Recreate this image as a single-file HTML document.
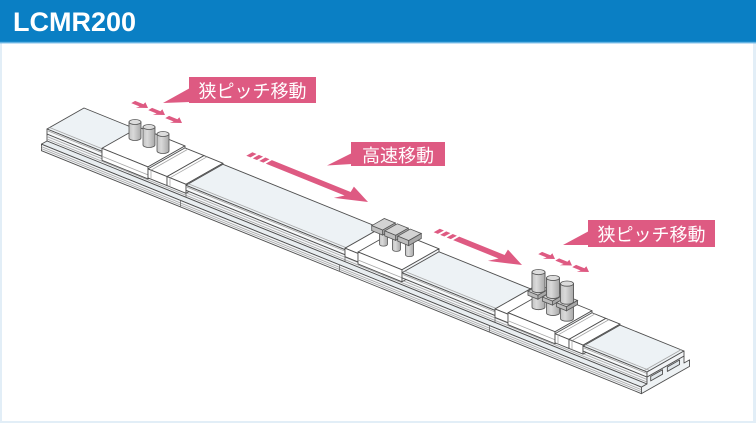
<!DOCTYPE html>
<html>
<head>
<meta charset="utf-8">
<style>
html,body{margin:0;padding:0;background:#fff;}
body{width:756px;height:423px;overflow:hidden;}
svg{display:block;}
.o{stroke:#4f4f4f;stroke-width:0.9;stroke-linejoin:round;vector-effect:non-scaling-stroke;}
.l{stroke:#a6a6a6;stroke-width:0.8;fill:none;vector-effect:non-scaling-stroke;}
.k{stroke:#6a6a6a;stroke-width:0.8;fill:none;vector-effect:non-scaling-stroke;}
.c{stroke:#555;stroke-width:0.8;vector-effect:non-scaling-stroke;}
.lbl{font-family:"Liberation Sans","Noto Sans CJK JP",sans-serif;font-size:18px;fill:#fff;}
</style>
</head>
<body>
<svg width="756" height="423" viewBox="0 0 756 423" xmlns="http://www.w3.org/2000/svg">
<defs>
<linearGradient id="cg" x1="0" y1="0" x2="1" y2="0">
<stop offset="0" stop-color="#c4c4c4"/>
<stop offset="0.35" stop-color="#dadada"/>
<stop offset="1" stop-color="#a9a9a9"/>
</linearGradient>
</defs>

<!-- frame -->
<rect x="0" y="0" width="756" height="423" fill="#e2eef7"/>
<rect x="2" y="43" width="751" height="378" fill="#ffffff"/>
<rect x="0" y="0" width="756" height="42" fill="#0a7fc4"/>
<rect x="0" y="41.8" width="756" height="1.6" fill="#66b4e3"/>
<text x="13" y="31" font-family="Liberation Sans, sans-serif" font-weight="bold" font-size="27" fill="#ffffff">LCMR200</text>

<!-- ===== BASE ===== -->
<g transform="matrix(1 0.405 0 1 47 129)">
  <polygon class="o" fill="#f4f6f8" points="0,5 600,5 600,12 0,12"/>
  <line class="l" x1="0" y1="7.5" x2="600" y2="7.5"/>
  <line class="l" x1="0" y1="10" x2="600" y2="10"/>
  <line class="k" x1="139" y1="5" x2="139" y2="12"/>
  <line class="k" x1="298" y1="5" x2="298" y2="12"/>
  <line class="k" x1="448" y1="5" x2="448" y2="12"/>
</g>
<g transform="matrix(1 0.405 37 -21 47 141)">
  <polygon class="o" fill="#e8edf0" points="0,-0.15 600,-0.15 600,0 0,0"/>
</g>
<g transform="matrix(1 0.405 0 1 41.45 132.15)">
  <polygon class="o" fill="#f4f6f8" points="0,12 600,12 600,18.5 0,18.5"/>
  <line class="l" x1="0" y1="14.5" x2="600" y2="14.5"/>
  <line class="l" x1="0" y1="16.5" x2="600" y2="16.5"/>
  <line class="k" x1="139" y1="12" x2="139" y2="18.5"/>
  <line class="k" x1="298" y1="12" x2="298" y2="18.5"/>
  <line class="k" x1="448" y1="12" x2="448" y2="18.5"/>
</g>
<!-- base end face -->
<g transform="matrix(37 -21 0 1 647 372)">
  <polygon class="o" fill="#eef2f4" points="-0.15,18.5 -0.15,12 0,12 0,5 1,5 1,12 1.15,12 1.15,18.5"/>
  <polygon class="o" fill="#e0e6ea" points="0.1,6.5 0.42,6.5 0.42,11 0.1,11"/>
  <polygon class="o" fill="#e0e6ea" points="0.55,6.5 0.88,6.5 0.88,11 0.55,11"/>
</g>

<!-- ===== PIECES ===== -->
<!-- A: cover 0-55 -->
<g transform="matrix(1 0.405 37 -21 47 129)">
  <polygon class="o" fill="#edf2f5" points="0,0 55,0 55,1 0,1"/>
  <line class="l" x1="0" y1="0.07" x2="55" y2="0.07"/>
</g>
<g transform="matrix(1 0.405 0 1 47 129)">
  <polygon class="o" fill="#f7f9fa" points="0,0 55,0 55,5 0,5"/>
  <line class="l" x1="0" y1="1.5" x2="55" y2="1.5"/>
</g>

<!-- C1: carriage 55-101 -->
<g transform="matrix(1 0.405 37 -21 47 126)">
  <polygon class="o" fill="#ffffff" points="55,0 101,0 101,1 55,1"/>
</g>
<g transform="matrix(1 0.405 0 1 47 129)">
  <polygon class="o" fill="#ffffff" points="55,-3 101,-3 101,9 55,9"/>
  <line class="l" x1="55" y1="5" x2="101" y2="5"/>
</g>
<g transform="matrix(37 -21 0 1 148 169.905)">
  <polygon class="o" fill="#f2f4f6" points="0,-3 1,-3 1,9 0,9"/>
</g>

<!-- Sa: 101-120 -->
<g transform="matrix(1 0.405 37 -21 47 128)">
  <polygon class="o" fill="#ffffff" points="101,0 120,0 120,1 101,1"/>
  <line class="l" x1="104" y1="0" x2="104" y2="1"/>
</g>
<g transform="matrix(1 0.405 0 1 47 129)">
  <polygon class="o" fill="#ffffff" points="101,-1 120,-1 120,8 101,8"/>
  <line class="l" x1="104" y1="-1" x2="104" y2="8"/>
</g>
<g transform="matrix(37 -21 0 1 167 177.6)">
  <polygon class="o" fill="#f2f4f6" points="0,-1 1,-1 1,8 0,8"/>
</g>

<!-- Sb: 120-139 -->
<g transform="matrix(1 0.405 37 -21 47 128)">
  <polygon class="o" fill="#ffffff" points="120,0 139,0 139,1 120,1"/>
  <line class="l" x1="123" y1="0" x2="123" y2="1"/>
</g>
<g transform="matrix(1 0.405 0 1 47 129)">
  <polygon class="o" fill="#ffffff" points="120,-1 139,-1 139,8 120,8"/>
  <line class="l" x1="123" y1="-1" x2="123" y2="8"/>
</g>
<g transform="matrix(37 -21 0 1 186 185.295)">
  <polygon class="o" fill="#f2f4f6" points="0,-1 1,-1 1,8 0,8"/>
</g>

<!-- B: cover 139-298 -->
<g transform="matrix(1 0.405 37 -21 47 129)">
  <polygon class="o" fill="#edf2f5" points="139,0 298,0 298,1 139,1"/>
  <line class="l" x1="139" y1="0.07" x2="298" y2="0.07"/>
</g>
<g transform="matrix(1 0.405 0 1 47 129)">
  <polygon class="o" fill="#f7f9fa" points="139,0 298,0 298,5 139,5"/>
  <line class="l" x1="139" y1="1.5" x2="298" y2="1.5"/>
</g>

<!-- P2: 298-311 -->
<g transform="matrix(1 0.405 37 -21 47 127.5)">
  <polygon class="o" fill="#ffffff" points="298,0 311,0 311,1 298,1"/>
</g>
<g transform="matrix(1 0.405 0 1 47 129)">
  <polygon class="o" fill="#ffffff" points="298,-1.5 311,-1.5 311,7 298,7"/>
</g>

<!-- C2: carriage 311-355 -->
<g transform="matrix(1 0.405 37 -21 47 126)">
  <polygon class="o" fill="#ffffff" points="311,0 355,0 355,1 311,1"/>
</g>
<g transform="matrix(1 0.405 0 1 47 129)">
  <polygon class="o" fill="#ffffff" points="311,-3 355,-3 355,9 311,9"/>
  <line class="l" x1="311" y1="5" x2="355" y2="5"/>
</g>
<g transform="matrix(37 -21 0 1 402 272.775)">
  <polygon class="o" fill="#f2f4f6" points="0,-3 1,-3 1,9 0,9"/>
</g>

<!-- C: cover 355-448 -->
<g transform="matrix(1 0.405 37 -21 47 129)">
  <polygon class="o" fill="#edf2f5" points="355,0 448,0 448,1 355,1"/>
  <line class="l" x1="355" y1="0.07" x2="448" y2="0.07"/>
</g>
<g transform="matrix(1 0.405 0 1 47 129)">
  <polygon class="o" fill="#f7f9fa" points="355,0 448,0 448,5 355,5"/>
  <line class="l" x1="355" y1="1.5" x2="448" y2="1.5"/>
</g>

<!-- P3: 448-461 -->
<g transform="matrix(1 0.405 37 -21 47 127.5)">
  <polygon class="o" fill="#ffffff" points="448,0 461,0 461,1 448,1"/>
</g>
<g transform="matrix(1 0.405 0 1 47 129)">
  <polygon class="o" fill="#ffffff" points="448,-1.5 461,-1.5 461,7 448,7"/>
</g>

<!-- C3: carriage 461-508 -->
<g transform="matrix(1 0.405 37 -21 47 126)">
  <polygon class="o" fill="#ffffff" points="461,0 508,0 508,1 461,1"/>
</g>
<g transform="matrix(1 0.405 0 1 47 129)">
  <polygon class="o" fill="#ffffff" points="461,-3 508,-3 508,9 461,9"/>
  <line class="l" x1="461" y1="5" x2="508" y2="5"/>
</g>
<g transform="matrix(37 -21 0 1 555 334.74)">
  <polygon class="o" fill="#f2f4f6" points="0,-3 1,-3 1,9 0,9"/>
</g>

<!-- Sa2: 508-522 -->
<g transform="matrix(1 0.405 37 -21 47 128)">
  <polygon class="o" fill="#ffffff" points="508,0 522,0 522,1 508,1"/>
  <line class="l" x1="511" y1="0" x2="511" y2="1"/>
</g>
<g transform="matrix(1 0.405 0 1 47 129)">
  <polygon class="o" fill="#ffffff" points="508,-1 522,-1 522,8 508,8"/>
  <line class="l" x1="511" y1="-1" x2="511" y2="8"/>
</g>
<g transform="matrix(37 -21 0 1 569 340.41)">
  <polygon class="o" fill="#f2f4f6" points="0,-1 1,-1 1,8 0,8"/>
</g>

<!-- Sb2: 522-536 -->
<g transform="matrix(1 0.405 37 -21 47 128)">
  <polygon class="o" fill="#ffffff" points="522,0 536,0 536,1 522,1"/>
  <line class="l" x1="525" y1="0" x2="525" y2="1"/>
</g>
<g transform="matrix(1 0.405 0 1 47 129)">
  <polygon class="o" fill="#ffffff" points="522,-1 536,-1 536,8 522,8"/>
  <line class="l" x1="525" y1="-1" x2="525" y2="8"/>
</g>
<g transform="matrix(37 -21 0 1 583 346.08)">
  <polygon class="o" fill="#f2f4f6" points="0,-1 1,-1 1,8 0,8"/>
</g>

<!-- D: end cover 536-600 -->
<g transform="matrix(1 0.405 37 -21 47 129)">
  <polygon class="o" fill="#edf2f5" points="536,0 600,0 600,1 536,1"/>
  <line class="l" x1="536" y1="0.07" x2="600" y2="0.07"/>
  <line class="l" x1="597" y1="0" x2="597" y2="1"/>
</g>
<g transform="matrix(1 0.405 0 1 47 129)">
  <polygon class="o" fill="#f7f9fa" points="536,0 600,0 600,5 536,5"/>
  <line class="l" x1="536" y1="1.5" x2="600" y2="1.5"/>
</g>
<g transform="matrix(37 -21 0 1 647 372)">
  <polygon class="o" fill="#f2f4f6" points="0,0 1,0 1,5 0,5"/>
</g>

<!-- ===== C1 cylinders ===== -->
<path class="c" fill="url(#cg)" d="M129,122 L129,138 A6,2.5 0 0 0 141,138 L141,122 Z"/>
<ellipse class="c" fill="#dcdcdc" cx="135" cy="122" rx="6" ry="2.5"/>
<path class="c" fill="url(#cg)" d="M143,127 L143,145 A6,2.5 0 0 0 155,145 L155,127 Z"/>
<ellipse class="c" fill="#dcdcdc" cx="149" cy="127" rx="6" ry="2.5"/>
<path class="c" fill="url(#cg)" d="M157,134 L157,151 A6,2.5 0 0 0 169,151 L169,134 Z"/>
<ellipse class="c" fill="#dcdcdc" cx="163" cy="134" rx="6" ry="2.5"/>

<!-- ===== C2 pins ===== -->
<!-- pin1 s=318 -->
<path class="c" fill="url(#cg)" d="M379.5,229.3 L379.5,244.3 A4,1.8 0 0 0 387.5,244.3 L387.5,229.3 Z"/>
<g transform="matrix(1 0.405 37 -21 47 106)"><polygon class="c" fill="#d3d3d3" points="312.5,0.33 323.5,0.33 323.5,0.67 312.5,0.67"/></g>
<g transform="matrix(1 0.405 0 1 59.21 122.07)"><polygon class="c" fill="#bebebe" points="312.5,-23 323.5,-23 323.5,-18 312.5,-18"/></g>
<g transform="matrix(37 -21 0 1 370.5 260.0175)"><polygon class="c" fill="#a9a9a9" points="0.33,-23 0.67,-23 0.67,-18 0.33,-18"/></g>
<!-- pin2 s=331 -->
<path class="c" fill="url(#cg)" d="M392.5,234.56 L392.5,249.56 A4,1.8 0 0 0 400.5,249.56 L400.5,234.56 Z"/>
<g transform="matrix(1 0.405 37 -21 47 106)"><polygon class="c" fill="#d3d3d3" points="325.5,0.33 336.5,0.33 336.5,0.67 325.5,0.67"/></g>
<g transform="matrix(1 0.405 0 1 59.21 122.07)"><polygon class="c" fill="#bebebe" points="325.5,-23 336.5,-23 336.5,-18 325.5,-18"/></g>
<g transform="matrix(37 -21 0 1 383.5 265.2825)"><polygon class="c" fill="#a9a9a9" points="0.33,-23 0.67,-23 0.67,-18 0.33,-18"/></g>
<!-- pin3 s=344 -->
<path class="c" fill="url(#cg)" d="M405.5,239.82 L405.5,254.82 A4,1.8 0 0 0 413.5,254.82 L413.5,239.82 Z"/>
<g transform="matrix(1 0.405 37 -21 47 106)"><polygon class="c" fill="#d3d3d3" points="338.5,0.33 349.5,0.33 349.5,0.67 338.5,0.67"/></g>
<g transform="matrix(1 0.405 0 1 59.21 122.07)"><polygon class="c" fill="#bebebe" points="338.5,-23 349.5,-23 349.5,-18 338.5,-18"/></g>
<g transform="matrix(37 -21 0 1 396.5 270.5475)"><polygon class="c" fill="#a9a9a9" points="0.33,-23 0.67,-23 0.67,-18 0.33,-18"/></g>

<!-- ===== C3 cylinders with clamps ===== -->
<!-- cyl1 s=473 -->
<path class="c" fill="url(#cg)" d="M532,272.07 L532,307.07 A6.5,2.6 0 0 0 545,307.07 L545,272.07 Z"/>
<g transform="matrix(1 0.405 37 -21 47 109)"><polygon class="c" fill="#d0d0d0" points="468,0.35 478,0.35 478,0.65 468,0.65"/></g>
<g transform="matrix(1 0.405 0 1 59.95 121.65)"><polygon class="c" fill="#bcbcbc" points="468,-20 478,-20 478,-16 468,-16"/></g>
<g transform="matrix(37 -21 0 1 525 322.59)"><polygon class="c" fill="#a8a8a8" points="0.35,-20 0.65,-20 0.65,-16 0.35,-16"/></g>
<path class="c" fill="url(#cg)" d="M532,272.07 L532,290.07 A6.5,2.6 0 0 0 545,290.07 L545,272.07 Z"/>
<ellipse class="c" fill="#dcdcdc" cx="538.5" cy="272.07" rx="6.5" ry="2.6"/>
<!-- cyl2 s=487.5 -->
<path class="c" fill="url(#cg)" d="M546.5,277.94 L546.5,312.94 A6.5,2.6 0 0 0 559.5,312.94 L559.5,277.94 Z"/>
<g transform="matrix(1 0.405 37 -21 47 109)"><polygon class="c" fill="#d0d0d0" points="482.5,0.35 492.5,0.35 492.5,0.65 482.5,0.65"/></g>
<g transform="matrix(1 0.405 0 1 59.95 121.65)"><polygon class="c" fill="#bcbcbc" points="482.5,-20 492.5,-20 492.5,-16 482.5,-16"/></g>
<g transform="matrix(37 -21 0 1 539.5 328.4625)"><polygon class="c" fill="#a8a8a8" points="0.35,-20 0.65,-20 0.65,-16 0.35,-16"/></g>
<path class="c" fill="url(#cg)" d="M546.5,277.94 L546.5,295.94 A6.5,2.6 0 0 0 559.5,295.94 L559.5,277.94 Z"/>
<ellipse class="c" fill="#dcdcdc" cx="553" cy="277.94" rx="6.5" ry="2.6"/>
<!-- cyl3 s=501.5 -->
<path class="c" fill="url(#cg)" d="M560.5,283.61 L560.5,318.61 A6.5,2.6 0 0 0 573.5,318.61 L573.5,283.61 Z"/>
<g transform="matrix(1 0.405 37 -21 47 109)"><polygon class="c" fill="#d0d0d0" points="496.5,0.35 506.5,0.35 506.5,0.65 496.5,0.65"/></g>
<g transform="matrix(1 0.405 0 1 59.95 121.65)"><polygon class="c" fill="#bcbcbc" points="496.5,-20 506.5,-20 506.5,-16 496.5,-16"/></g>
<g transform="matrix(37 -21 0 1 553.5 334.1325)"><polygon class="c" fill="#a8a8a8" points="0.35,-20 0.65,-20 0.65,-16 0.35,-16"/></g>
<path class="c" fill="url(#cg)" d="M560.5,283.61 L560.5,301.61 A6.5,2.6 0 0 0 573.5,301.61 L573.5,283.61 Z"/>
<ellipse class="c" fill="#dcdcdc" cx="567" cy="283.61" rx="6.5" ry="2.6"/>

<!-- ===== PINK ARROWS ===== -->
<g fill="#de5a82">
  <!-- big arrow 1 -->
  <g transform="matrix(0.927 0.375 -0.870 0.494 368 202)">
    <polygon points="0,0 -26,-11.5 -22,-3.5 -107,-3.5 -107,3.5 -22,3.5 -26,11.5"/>
    <polygon points="-128,-3.5 -123.5,-3.5 -123.5,3.5 -128,3.5"/>
    <polygon points="-121,-3.5 -116.5,-3.5 -116.5,3.5 -121,3.5"/>
    <polygon points="-114,-3.5 -109.5,-3.5 -109.5,3.5 -114,3.5"/>
  </g>
  <!-- big arrow 2 -->
  <g transform="matrix(0.927 0.375 -0.870 0.494 522 265)">
    <polygon points="0,0 -26,-11.5 -22,-3.5 -71,-3.5 -71,3.5 -22,3.5 -26,11.5"/>
    <polygon points="-92,-3.5 -87.5,-3.5 -87.5,3.5 -92,3.5"/>
    <polygon points="-85,-3.5 -80.5,-3.5 -80.5,3.5 -85,3.5"/>
    <polygon points="-78,-3.5 -73.5,-3.5 -73.5,3.5 -78,3.5"/>
  </g>
  <!-- small arrows group 1 -->
  <g transform="matrix(0.927 0.375 -0.870 0.494 148 108)"><polygon points="0,0 -8,-5.5 -7,-2.2 -16,-2.2 -16,2.2 -7,2.2 -8,5.5"/></g>
  <g transform="matrix(0.927 0.375 -0.870 0.494 165 115)"><polygon points="0,0 -8,-5.5 -7,-2.2 -16,-2.2 -16,2.2 -7,2.2 -8,5.5"/></g>
  <g transform="matrix(0.927 0.375 -0.870 0.494 182 123)"><polygon points="0,0 -8,-5.5 -7,-2.2 -16,-2.2 -16,2.2 -7,2.2 -8,5.5"/></g>
  <!-- small arrows group 3 -->
  <g transform="matrix(0.927 0.375 -0.870 0.494 555 259)"><polygon points="0,0 -8,-5.5 -7,-2.2 -16,-2.2 -16,2.2 -7,2.2 -8,5.5"/></g>
  <g transform="matrix(0.927 0.375 -0.870 0.494 572 265.5)"><polygon points="0,0 -8,-5.5 -7,-2.2 -16,-2.2 -16,2.2 -7,2.2 -8,5.5"/></g>
  <g transform="matrix(0.927 0.375 -0.870 0.494 589 272)"><polygon points="0,0 -8,-5.5 -7,-2.2 -16,-2.2 -16,2.2 -7,2.2 -8,5.5"/></g>

  <!-- labels -->
  <polygon points="190,88 163,103 190,102"/>
  <rect x="189" y="77" width="127" height="26"/>
  <polygon points="352,153 327,165.5 352,164"/>
  <rect x="351" y="142" width="94" height="24"/>
  <polygon points="589,231 563,245 589,245"/>
  <rect x="588" y="220" width="127" height="27"/>
</g>
<text class="lbl" x="252.5" y="97.5" text-anchor="middle">狭ピッチ移動</text>
<text class="lbl" x="398" y="161.8" text-anchor="middle">高速移動</text>
<text class="lbl" x="651.5" y="240.8" text-anchor="middle">狭ピッチ移動</text>
</svg>
</body>
</html>
